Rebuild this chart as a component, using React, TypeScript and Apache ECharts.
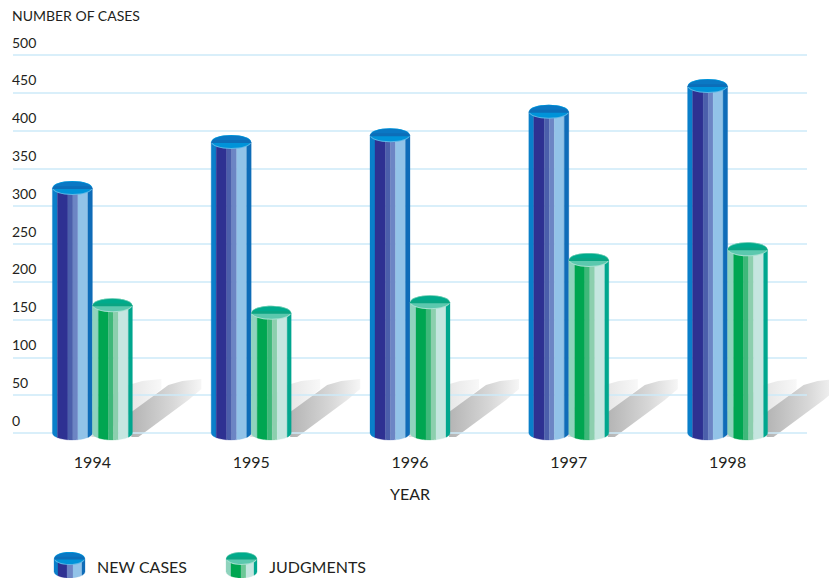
import React, { useEffect, useRef } from "react";
import * as echarts from "echarts";

const years = ["1994", "1995", "1996", "1997", "1998"];
const newCases = [324, 385, 394, 425, 459];
const judgments = [169, 159, 173, 229, 243];
const yTicks = [0, 50, 100, 150, 200, 250, 300, 350, 400, 450, 500];

const FONT = "Lato";
const TEXT = "#231f20";
const BW = 40;
const RY = 7;

type Strip = [number, string];
const blueStrips: Strip[] = [[5, "#0a7fca"], [10.5, "#2e3192"], [5, "#4b5fab"], [5, "#6c85c4"], [10, "#92c3e8"], [4.5, "#0f6cb8"]];
const greenStrips: Strip[] = [[6, "#8fd3bd"], [10, "#00a651"], [5, "#3fb87a"], [5, "#8ccfae"], [10, "#c5e6e0"], [4, "#00a78e"]];
const blueLegendStrips: Strip[] = [[4, "#0a7fca"], [9, "#2e3192"], [6, "#6c85c4"], [9, "#92c3e8"], [3, "#0f6cb8"]];
const greenLegendStrips: Strip[] = [[5, "#8fd3bd"], [10, "#00a651"], [5, "#6cc796"], [8, "#c5e6e0"], [3, "#00a78e"]];
const blueCap = { top: "#0a78c4", mid: "#0d6eb8", low: "#0093d9", edge: "#5cb8e6" };
const greenCap = { top: "#00ab8c", mid: "#0aa583", low: "#5cc8ae", edge: "#a5e0d0" };

function arcBottom(x0: number, x1: number, cx: number, cy: number, rx: number, ry: number) {
  const pts: number[][] = [];
  const n = 8;
  for (let i = 0; i <= n; i++) {
    const x = x0 + ((x1 - x0) * i) / n;
    const t = Math.min(1, Math.abs((x - cx) / rx));
    pts.push([x, cy + ry * Math.sqrt(1 - t * t)]);
  }
  return pts;
}

function cylinder(left: number, topY: number, baseY: number, w: number, ry: number, strips: Strip[], cap: typeof blueCap) {
  const cx = left + w / 2;
  const rx = w / 2;
  const children: any[] = [];
  let x = left;
  const scale = w / strips.reduce((a, s) => a + s[0], 0);
  strips.forEach(([sw, color]) => {
    const x1 = x + sw * scale;
    const pts = arcBottom(x, x1, cx, baseY, rx, ry);
    children.push({
      type: "polygon",
      shape: { points: [[x, topY], [x1, topY], ...pts.reverse()] },
      style: { fill: color, stroke: color, lineWidth: 0.3 },
    });
    x = x1;
  });
  children.push({ type: "ellipse", shape: { cx, cy: topY, rx, ry }, style: { fill: cap.edge } });
  children.push({ type: "ellipse", shape: { cx, cy: topY - 0.5, rx: rx - 0.5, ry: ry - 0.5 }, style: { fill: cap.low } });
  const band: number[][] = [];
  for (let i = 0; i <= 24; i++) {
    const a = Math.PI + (Math.PI * i) / 24;
    band.push([cx + rx * Math.cos(a), topY + ry * Math.sin(a) + 1]);
  }
  children.push({ type: "polygon", shape: { points: band }, style: { fill: cap.mid } });
  const crown: number[][] = [];
  for (let i = 0; i <= 24; i++) {
    const a = Math.PI + 0.42 + ((Math.PI - 0.84) * i) / 24;
    crown.push([cx + rx * Math.cos(a), topY + ry * Math.sin(a) + 1]);
  }
  children.push({ type: "polygon", shape: { points: crown }, style: { fill: cap.top } });
  return { type: "group", children };
}

function cylinderSeries(name: string, data: number[], side: number, strips: Strip[], cap: typeof blueCap) {
  return {
    type: "custom",
    name,
    z: 5,
    clip: false,
    data: data.map((v, i) => [i, v]),
    encode: { x: 0, y: 1 },
    renderItem: (_: any, api: any) => {
      const top = api.coord([api.value(0), api.value(1)]);
      const base = api.coord([api.value(0), 0]);
      const left = top[0] + (side === 0 ? -BW : 0);
      return cylinder(left, top[1], base[1], BW, RY, strips, cap);
    },
  };
}

function shadowShape(px: number, py: number) {
  return [
    [px - 1, py - 21],
    [px + 36, py - 48],
    [px + 50, py - 52],
    [px + 69, py - 54],
    [px + 69, py - 44],
    [px + 56, py - 33],
    [px + 6, py + 4],
    [px - 1, py + 4],
  ];
}

function shadowSeries(offset: number, from: string, mid: string, to: string, z: number) {
  return {
    type: "custom",
    silent: true,
    z,
    clip: false,
    data: years.map((_, i) => [i, 0]),
    encode: { x: 0, y: 1 },
    renderItem: (_: any, api: any) => {
      const p = api.coord([api.value(0), 0]);
      return {
        type: "polygon",
        shape: { points: shadowShape(p[0] + offset, p[1]) },
        style: {
          fill: new echarts.graphic.LinearGradient(0, 0, 1, 0, [
            { offset: 0, color: from },
            { offset: 0.6, color: mid },
            { offset: 1, color: to },
          ]),
        },
      };
    },
  };
}

export default function App() {
  const ref = useRef<HTMLDivElement>(null);
  useEffect(() => {
    if (!ref.current) return;
    const chart = echarts.init(ref.current, undefined, { renderer: "svg" });
    chart.setOption({
      animation: false,
      backgroundColor: "#ffffff",
      textStyle: { fontFamily: FONT, color: TEXT },
      grid: { left: 13, right: 22, top: 55, bottom: 145, containLabel: false },
      xAxis: {
        type: "category",
        data: years,
        name: "YEAR",
        nameLocation: "middle",
        nameGap: 52,
        nameTextStyle: { fontFamily: FONT, fontSize: 16, color: TEXT },
        axisLine: { show: false },
        axisTick: { show: false },
        axisLabel: { fontFamily: FONT, fontSize: 16, color: TEXT, margin: 20 },
      },
      yAxis: {
        type: "value",
        min: 0,
        max: 500,
        interval: 50,
        z: 3,
        name: "NUMBER OF CASES",
        nameLocation: "end",
        nameGap: 33,
        nameTextStyle: { fontFamily: FONT, fontSize: 14, color: TEXT, align: "left", padding: [0, 0, 0, -1] },
        axisLine: { show: false },
        axisTick: { show: false },
        splitLine: { show: true, lineStyle: { color: "#cdeaf8", width: 1.5 } },
        axisLabel: {
          inside: true,
          margin: -1,
          fontFamily: FONT,
          fontSize: 14,
          color: TEXT,
          verticalAlign: "bottom",
          padding: [0, 0, 6, 0],
          customValues: yTicks,
        },
      },
      legend: {
        left: 54,
        top: 555,
        padding: 0,
        itemWidth: 43,
        itemHeight: 22,
        itemGap: 39,
        icon: "rect",
        itemStyle: { opacity: 0 },
        textStyle: { fontFamily: FONT, fontSize: 16, color: TEXT, padding: [0, 0, 0, -5] },
        data: ["NEW CASES", "JUDGMENTS"],
      },
      graphic: [
        cylinder(54, 558.5, 571.5, 31, 6.5, blueLegendStrips, blueCap),
        cylinder(226, 558.5, 571.5, 31, 6.5, greenLegendStrips, greenCap),
      ],
      series: [
        shadowSeries(0, "#dddddd", "#e8e8e8", "#f8f8f8", 1),
        shadowSeries(40, "#b4b4b4", "#d8d8d8", "#f6f6f6", 2),
        cylinderSeries("NEW CASES", newCases, 0, blueStrips, blueCap),
        cylinderSeries("JUDGMENTS", judgments, 1, greenStrips, greenCap),
      ],
    });
    return () => chart.dispose();
  }, []);
  return <div ref={ref} style={{ position: "absolute", left: 0, top: 0, width: 829, height: 578 }} />;
}
